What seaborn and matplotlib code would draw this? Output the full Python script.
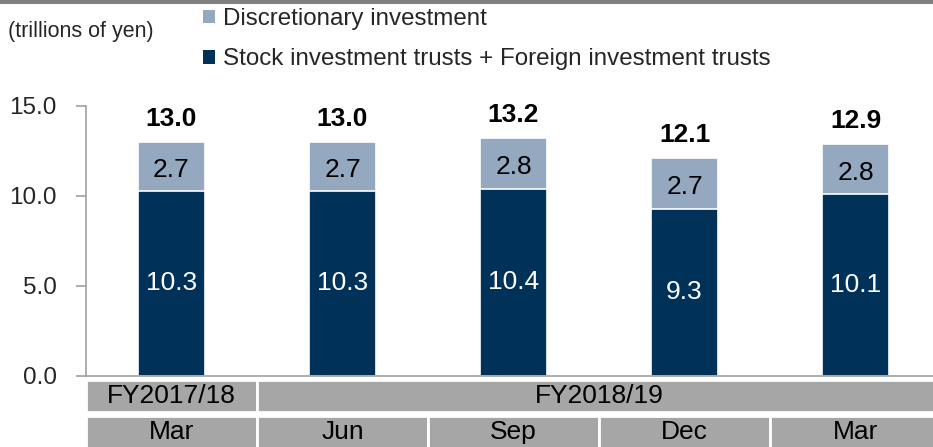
import numpy as np
import pandas as pd
import matplotlib
matplotlib.use("Agg")
import matplotlib.pyplot as plt
import matplotlib.transforms as mtransforms
from matplotlib.patches import Rectangle
import seaborn as sns

# --- data ---
periods = ["FY2017/18 Mar", "FY2018/19 Jun", "FY2018/19 Sep", "FY2018/19 Dec", "FY2018/19 Mar"]
month_labels = ["Mar", "Jun", "Sep", "Dec", "Mar"]
fiscal_years = ["FY2017/18", "FY2018/19"]
fy_span = [1, 4]  # number of quarters under each fiscal year
stock_trusts = [10.3, 10.3, 10.4, 9.3, 10.1]
discretionary = [2.7, 2.7, 2.8, 2.7, 2.8]
totals = [13.0, 13.0, 13.2, 12.1, 12.9]

DARK = "#003259"
LIGHT = "#94a8bf"
CELL = "#a6a6a6"
AXIS = "#a0a0a0"

sns.set_theme(style="white")
plt.rcParams["font.family"] = ["Liberation Sans", "DejaVu Sans"]

df = pd.DataFrame({"period": periods, "stock": stock_trusts, "total": totals})

fig = plt.figure(figsize=(9.33, 4.47), dpi=100)
ax = fig.add_axes([86 / 933, 71 / 447, 847 / 933, 270 / 447])

# stacked bars: light (total) behind, dark (stock trusts) in front
sns.barplot(data=df, x="period", y="total", color=LIGHT, width=0.386,
            errorbar=None, saturation=1, edgecolor="white", linewidth=1.2, ax=ax)
sns.barplot(data=df, x="period", y="stock", color=DARK, width=0.386,
            errorbar=None, saturation=1, edgecolor="white", linewidth=1.2, ax=ax)

ax.set_xlim(-0.5, -0.5 + 847 / 171)
ax.set_ylim(0, 15)
ax.set_yticks([0, 5, 10, 15])
ax.set_yticklabels([f"{v:.1f}" for v in [0, 5, 10, 15]], fontsize=17.5)
ax.set_xticks([])
ax.set_xlabel("")
ax.set_ylabel("")
ax.tick_params(axis="y", which="major", left=True, length=7, width=1.2,
               color=AXIS, pad=14, direction="out")
for side in ["top", "right"]:
    ax.spines[side].set_visible(False)
for side in ["left", "bottom"]:
    ax.spines[side].set_color(AXIS)
    ax.spines[side].set_linewidth(1.2)

# value labels
for i in range(len(periods)):
    ax.text(i, stock_trusts[i] / 2, f"{stock_trusts[i]:.1f}", ha="center", va="center",
            color="white", fontsize=19)
    ax.text(i, (stock_trusts[i] + totals[i]) / 2 - 0.2, f"{discretionary[i]:.1f}",
            ha="center", va="center", color="black", fontsize=19)
    ax.annotate(f"{totals[i]:.1f}", (i, totals[i]), xytext=(0, 8), textcoords="offset points",
                ha="center", va="bottom", fontsize=19, fontweight="bold", color="black")

# category table under the axis
trans = mtransforms.blended_transform_factory(ax.transData, ax.transAxes)
row1 = (-0.1333, -0.0148)
row2 = (-0.30, -0.148)
start = 0
for fy, n in zip(fiscal_years, fy_span):
    x0 = start - 0.5
    ax.add_patch(Rectangle((x0, row1[0]), n, row1[1] - row1[0], transform=trans,
                           facecolor=CELL, edgecolor="white", linewidth=2, clip_on=False))
    xc = x0 + n / 2 if n == 1 else start - 0.5 + 2.0
    ax.text(xc, (row1[0] + row1[1]) / 2, fy, transform=trans, ha="center", va="center",
            fontsize=19, color="black", clip_on=False)
    start += n
for i, m in enumerate(month_labels):
    ax.add_patch(Rectangle((i - 0.5, row2[0]), 1, row2[1] - row2[0], transform=trans,
                           facecolor=CELL, edgecolor="white", linewidth=2, clip_on=False))
    ax.text(i, -0.207, m, transform=trans, ha="center", va="center",
            fontsize=19, color="black", clip_on=False)

# top grey band
fig.add_artist(Rectangle((0, 1 - 4 / 447), 1, 4 / 447, transform=fig.transFigure,
                         facecolor="#7f7f7f", edgecolor="none"))

fig.text(8 / 933, 1 - 31 / 447, "(trillions of yen)", ha="left", va="center", fontsize=15.5)

handles = [Rectangle((0, 0), 1, 1, facecolor=LIGHT, edgecolor="none"),
           Rectangle((0, 0), 1, 1, facecolor=DARK, edgecolor="none")]
fig.legend(handles, ["Discretionary investment", "Stock investment trusts + Foreign investment trusts"],
           loc="upper left", bbox_to_anchor=(203 / 933, 1 - 8 / 447), frameon=False,
           fontsize=17.4, handlelength=0.5, handleheight=0.5, handletextpad=0.33,
           labelspacing=0.76, borderpad=0.0, borderaxespad=0.0)

fig.savefig("out.png", dpi=100)
